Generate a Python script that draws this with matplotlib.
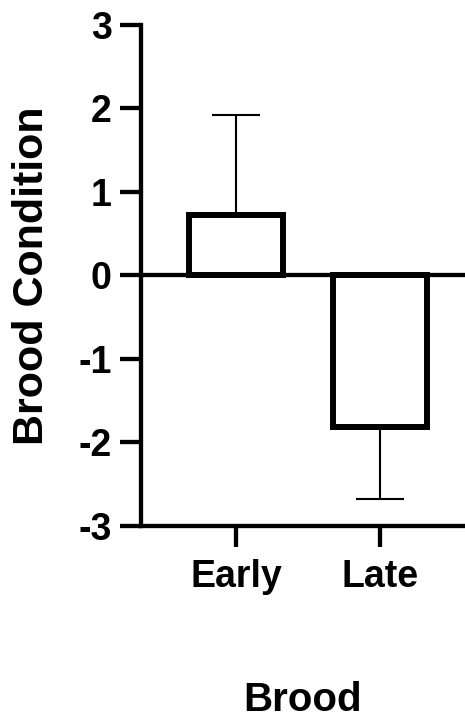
import numpy as np
import matplotlib
matplotlib.use("Agg")
import matplotlib.pyplot as plt

# Brood condition by brood timing (mean + error)
groups = ["Early", "Late"]
means = [0.72, -1.82]
errs = [1.20, 0.86]

plt.rcParams['font.family'] = ['Liberation Sans', 'DejaVu Sans']
plt.rcParams['font.weight'] = 'bold'
plt.rcParams['axes.unicode_minus'] = False

fig = plt.figure(figsize=(4.65, 7.26), dpi=100)
ax = fig.add_axes([0.3032, 0.2755, 0.6968, 0.6907])

x = np.arange(len(groups))
lw = 3.1

ax.bar(x, means, width=0.65, color="white", edgecolor="black",
       linewidth=4.3, zorder=3)

# one-sided error bars, pointing away from zero
lower = [0 if m > 0 else e for m, e in zip(means, errs)]
upper = [e if m > 0 else 0 for m, e in zip(means, errs)]
ax.errorbar(x, means, yerr=[lower, upper], fmt="none", ecolor="black",
            elinewidth=1.5, capsize=17.5, capthick=1.5, zorder=2)

ax.axhline(0, color="black", linewidth=lw, zorder=4)

ax.set_xlim(-0.66, 1.59)
ax.set_ylim(-3, 3)
ax.set_yticks([-3, -2, -1, 0, 1, 2, 3])
ax.set_xticks(x)
ax.set_xticklabels(groups)

for s in ["top", "right"]:
    ax.spines[s].set_visible(False)
for s in ["left", "bottom"]:
    ax.spines[s].set_linewidth(lw)

ax.tick_params(axis="both", length=15, width=lw, labelsize=27)
ax.tick_params(axis="y", pad=6)
ax.tick_params(axis="x", pad=9)

ax.set_ylabel("Brood Condition", fontsize=31, fontweight="bold", labelpad=19)
ax.set_xlabel("Brood", fontsize=29, fontweight="bold", labelpad=62)

fig.savefig("out.png", dpi=100)
